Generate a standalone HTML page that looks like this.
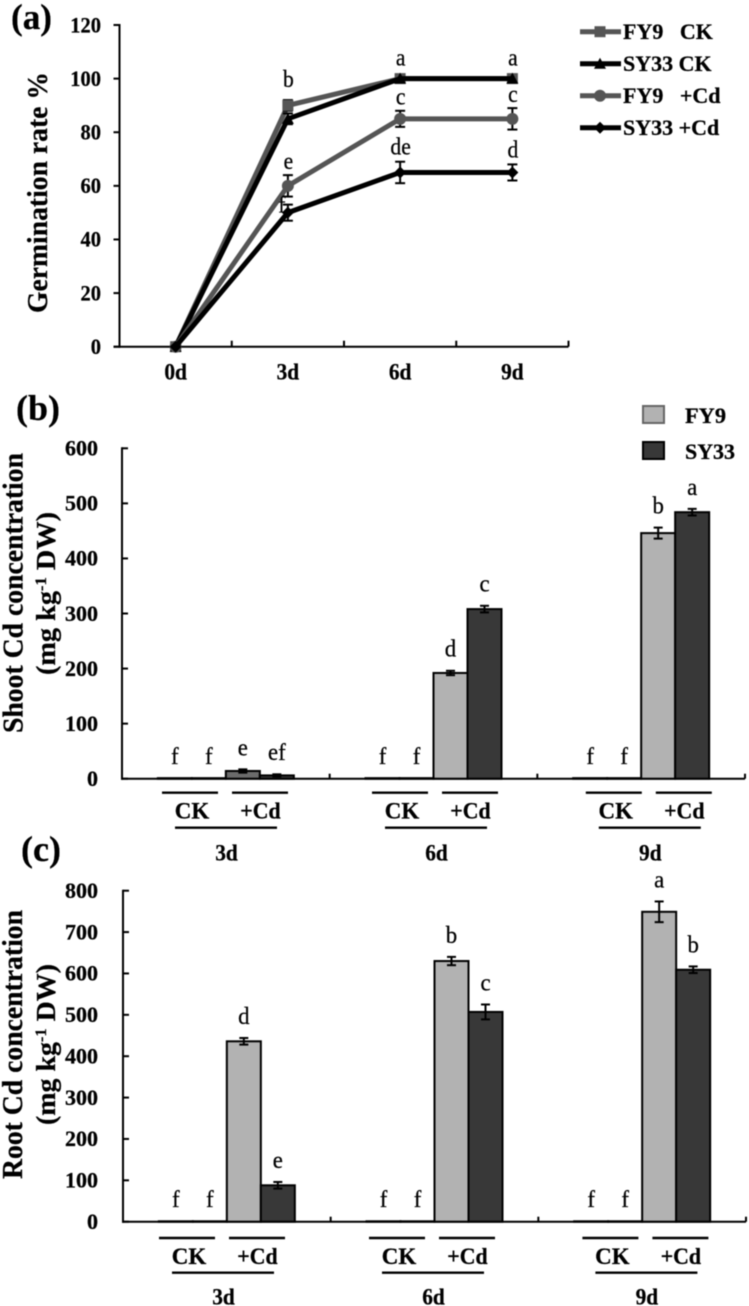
<!DOCTYPE html>
<html>
<head>
<meta charset="utf-8">
<style>
html,body{margin:0;padding:0;background:#fff;width:749px;height:1306px;overflow:hidden}
svg{display:block;filter:blur(.5px)}
text{font-family:"Liberation Serif",serif;fill:#000;stroke:#000;stroke-width:.25px}
</style>
</head>
<body>
<svg id="fig" width="749" height="1306" viewBox="0 0 749 1306" xmlns="http://www.w3.org/2000/svg">
  <g id="legendA"></g>
  <g id="panelA"></g>
  <g id="panelB"></g>
  <g id="panelC"></g>

  <text x="11" y="29" font-size="36" font-weight="bold" textLength="41" lengthAdjust="spacingAndGlyphs">(a)</text>
  <text x="16" y="420" font-size="36" font-weight="bold" textLength="44" lengthAdjust="spacingAndGlyphs">(b)</text>
  <text x="21" y="861" font-size="36" font-weight="bold" textLength="40" lengthAdjust="spacingAndGlyphs">(c)</text>

  <text transform="translate(47,313) rotate(-90)" font-size="28" font-weight="bold" textLength="241" lengthAdjust="spacingAndGlyphs">Germination rate %</text>
  <text transform="translate(22.5,733) rotate(-90)" font-size="28" font-weight="bold" textLength="280" lengthAdjust="spacingAndGlyphs">Shoot Cd concentration</text>
  <text transform="translate(55,675) rotate(-90)" font-size="27" font-weight="bold" textLength="163" lengthAdjust="spacingAndGlyphs">(mg kg<tspan dy="-9" font-size="16">-1</tspan><tspan dy="9"> DW)</tspan></text>
  <text transform="translate(22,1179) rotate(-90)" font-size="28" font-weight="bold" textLength="269" lengthAdjust="spacingAndGlyphs">Root Cd concentration</text>
  <text transform="translate(55,1125) rotate(-90)" font-size="27" font-weight="bold" textLength="161" lengthAdjust="spacingAndGlyphs">(mg kg<tspan dy="-9" font-size="16">-1</tspan><tspan dy="9"> DW)</tspan></text>

  <rect x="643" y="406" width="21" height="17" fill="#b2b2b2" stroke="#666" stroke-width="2"/>
  <rect x="643" y="442" width="21" height="17" fill="#383838" stroke="#000" stroke-width="2"/>
  <text x="685" y="423" font-size="22" font-weight="bold" textLength="41" lengthAdjust="spacingAndGlyphs">FY9</text>
  <text x="685" y="459" font-size="22" font-weight="bold" textLength="50" lengthAdjust="spacingAndGlyphs">SY33</text>
</svg>

<script>
// ---------- Panel (a) data ----------
const daysA = ['0d', '3d', '6d', '9d'];
const ticksA = [0, 20, 40, 60, 80, 100, 120];
const fy9Ck = [0, 90, 100, 100];
const sy33Ck = [0, 85, 100, 100];
const fy9Cd = [0, 60, 85, 85];
const sy33Cd = [0, 50, 65, 65];
const fy9CkErr = [0, 2, 0, 0];
const sy33CkErr = [0, 2, 0, 0];
const fy9CdErr = [0, 4, 3, 4];
const sy33CdErr = [0, 3, 4, 3];
const fy9CkLetters = ['', 'b', 'a', 'a'];
const sy33CkLetters = ['', '', '', ''];
const fy9CdLetters = ['', 'e', 'c', 'c'];
const sy33CdLetters = ['', 'f', 'de', 'd'];
const legendNames = ['FY9   CK', 'SY33 CK', 'FY9   +Cd', 'SY33 +Cd'];

// ---------- Panel (b) data ----------
const daysBar = ['3d', '6d', '9d'];
const ticksB = [0, 100, 200, 300, 400, 500, 600];
const shootFy9Ck = [1, 1, 1];
const shootSy33Ck = [1, 1, 1];
const shootFy9Cd = [14, 192, 446];
const shootSy33Cd = [6, 308, 484];
const shootFy9CdErr = [3, 4, 10];
const shootSy33CdErr = [2, 6, 6];
const shootLetters = [['f', 'f', 'e', 'ef'], ['f', 'f', 'd', 'c'], ['f', 'f', 'b', 'a']];

// ---------- Panel (c) data ----------
const ticksC = [0, 100, 200, 300, 400, 500, 600, 700, 800];
const rootFy9Ck = [1, 1, 1];
const rootSy33Ck = [1, 1, 1];
const rootFy9Cd = [436, 630, 749];
const rootSy33Cd = [88, 507, 609];
const rootFy9CdErr = [8, 10, 25];
const rootSy33CdErr = [8, 18, 8];
const rootLetters = [['f', 'f', 'd', 'e'], ['f', 'f', 'b', 'c'], ['f', 'f', 'a', 'b']];

const NS = 'http://www.w3.org/2000/svg';

function line(parent, name, x1, y1, x2, y2, color, width) {
  const el = document.createElementNS(NS, 'line');
  
  
  el.setAttribute('x1', x1);
  el.setAttribute('y1', y1);
  el.setAttribute('x2', x2);
  el.setAttribute('y2', y2);
  el.setAttribute('stroke', color);
  el.setAttribute('stroke-width', width);
  parent.appendChild(el);
  return el;
}

function label(parent, name, str, x, y, size, bold, anchor, squeeze) {
  const el = document.createElementNS(NS, 'text');
  
  
  el.setAttribute('x', x);
  el.setAttribute('y', y + size * 0.33);
  el.setAttribute('font-size', size);
  el.setAttribute('font-weight', bold ? 'bold' : 'normal');
  el.setAttribute('text-anchor', anchor);
  el.style.whiteSpace = 'pre';
  el.textContent = str;
  parent.appendChild(el);
  if (squeeze && squeeze !== 1) {
    el.setAttribute('textLength', el.getComputedTextLength() * squeeze);
    el.setAttribute('lengthAdjust', 'spacingAndGlyphs');
  }
  return el;
}

function marker(parent, name, kind, x, y, color, s) {
  let el;
  if (kind === 'circle') {
    el = document.createElementNS(NS, 'circle');
    el.setAttribute('cx', x);
    el.setAttribute('cy', y);
    el.setAttribute('r', s);
  } else {
    el = document.createElementNS(NS, 'polygon');
    let pts;
    if (kind === 'square') pts = [[x - s, y - s], [x + s, y - s], [x + s, y + s], [x - s, y + s]];
    if (kind === 'triangle') pts = [[x, y - s - 1], [x + s + 1, y + s], [x - s - 1, y + s]];
    if (kind === 'diamond') pts = [[x, y - s - 1], [x + s + 1, y], [x, y + s + 1], [x - s - 1, y]];
    el.setAttribute('points', pts.map(p => p.join(',')).join(' '));
  }
  
  
  el.setAttribute('fill', color);
  parent.appendChild(el);
  return el;
}

function errorBar(parent, name, x, yLow, yHigh, cap) {
  line(parent, name + '-stem', x, yLow, x, yHigh, '#000', 2);
  line(parent, name + '-cap-top', x - cap, yHigh, x + cap, yHigh, '#000', 2);
  line(parent, name + '-cap-bottom', x - cap, yLow, x + cap, yLow, '#000', 2);
}

// ---------- Panel (a) ----------
(function () {
  const g = document.getElementById('panelA');
  const axisX = 119.5, axisRight = 568.5, y0 = 346.7, yTop = 25, yMax = 120;
  const step = (axisRight - axisX) / daysA.length;
  const xA = i => axisX + step * (i + 0.5);
  const yA = v => y0 - (v / yMax) * (y0 - yTop);

  line(g, 'y-axis-line', axisX, yTop - 1, axisX, y0 + 1, '#000', 2);
  line(g, 'x-axis-line', axisX - 6, y0, axisRight, y0, '#000', 2);
  ticksA.forEach(t => {
    line(g, 'y-axis-tick', axisX - 6, yA(t), axisX, yA(t), '#000', 2);
    label(g, 'y-tick-label', String(t), 101, yA(t), 22, true, 'end', 0.93);
  });
  daysA.forEach((d, i) => {
    line(g, 'x-axis-tick', axisX + step * (i + 1), y0 - 6, axisX + step * (i + 1), y0, '#000', 2);
    label(g, 'x-tick-label', d, xA(i), 372, 23, true, 'middle', 0.93);
  });

  const series = [
    { name: 'fy9-ck', vals: fy9Ck, errs: fy9CkErr, letters: fy9CkLetters, color: '#555', kind: 'square', size: 5.5, lift: 21 },
    { name: 'sy33-ck', vals: sy33Ck, errs: sy33CkErr, letters: sy33CkLetters, color: '#000', kind: 'triangle', size: 5, lift: 21 },
    { name: 'fy9-cd', vals: fy9Cd, errs: fy9CdErr, letters: fy9CdLetters, color: '#555', kind: 'circle', size: 6, lift: 14 },
    { name: 'sy33-cd', vals: sy33Cd, errs: sy33CdErr, letters: sy33CdLetters, color: '#000', kind: 'diamond', size: 5, lift: 15 }
  ];
  series.forEach(s => {
    const pl = document.createElementNS(NS, 'polyline');
    
    
    pl.setAttribute('fill', 'none');
    pl.setAttribute('stroke', s.color);
    pl.setAttribute('stroke-width', 5);
    pl.setAttribute('points', s.vals.map((v, i) => xA(i) + ',' + yA(v)).join(' '));
    g.appendChild(pl);
    s.vals.forEach((v, i) => {
      if (s.errs[i] > 0) errorBar(g, 'error-' + s.name, xA(i), yA(v - s.errs[i]), yA(v + s.errs[i]), 5);
      marker(g, 'point-' + s.name, s.kind, xA(i), yA(v), s.color, s.size);
      const letter = s.letters[i];
      if (letter) {
        const special = letter === 'f';
        const ly = yA(v + s.errs[i]) - (special ? 0 : s.lift);
        label(g, 'significance-letter', letter, xA(i) + (special ? -6 : 0.5), ly, 24, false, 'middle', 0.9);
      }
    });
  });

  // legend
  const lg = document.getElementById('legendA');
  const legendY = i => 31.7 + i * 32;
  series.forEach((s, i) => {
    line(lg, 'legend-line-' + s.name, 580, legendY(i), 621, legendY(i), s.color, 5);
    marker(lg, 'legend-marker-' + s.name, s.kind, 600, legendY(i), s.color, s.size);
    label(lg, 'legend-label-' + s.name, legendNames[i], 623, legendY(i), 22, true, 'start', 1);
  });
})();

// ---------- Bar panels ----------
function barPanel(cfg) {
  const g = cfg.g;
  const x0 = cfg.axisX, xR = cfg.axisRight;
  const step = (xR - x0) / daysBar.length;
  const y = v => cfg.y0 - (v / cfg.yMax) * (cfg.y0 - cfg.yTop);
  const barW = 34;

  line(g, 'y-axis-line', x0, cfg.yTop - 1, x0, cfg.y0 + 1, '#000', 2);
  line(g, 'x-axis-line', x0 - 1, cfg.y0, xR, cfg.y0, '#000', 2);
  cfg.ticks.forEach(t => {
    line(g, 'y-axis-tick', x0, y(t), x0 + 6, y(t), '#000', 2);
    label(g, 'y-tick-label', String(t), 98, y(t), 22, true, 'end', 1);
  });
  daysBar.forEach((d, i) => {
    const tx = x0 + step * (i + 1);
    line(g, 'x-axis-tick', tx, cfg.y0 - 5, tx, cfg.y0, '#000', 2);
    const center = x0 + step * (i + 0.5);
    const vals = [cfg.fy9Ck[i], cfg.sy33Ck[i], cfg.fy9Cd[i], cfg.sy33Cd[i]];
    const errs = [0, 0, cfg.fy9Err[i], cfg.sy33Err[i]];
    const fills = ['#b2b2b2', '#383838', cfg.fill(vals[2]), '#383838'];
    vals.forEach((v, j) => {
      const bx = center + (j - 2) * barW;
      const r = document.createElementNS(NS, 'rect');
      
      
      r.setAttribute('x', bx);
      r.setAttribute('y', y(v));
      r.setAttribute('width', barW);
      r.setAttribute('height', cfg.y0 - y(v));
      r.setAttribute('fill', fills[j]);
      r.setAttribute('stroke', '#000');
      r.setAttribute('stroke-width', 2);
      g.appendChild(r);
      if (errs[j] > 0) errorBar(g, 'error-bar', bx + barW / 2, y(v - errs[j]), y(v + errs[j]), 4.5);
      label(g, 'significance-letter', cfg.letters[i][j], bx + barW / 2, y(v + errs[j]) - cfg.lift, 24, false, 'middle', 0.95);
    });

    // treatment annotation
    const L = cfg.bracketLeft[i];
    line(g, 'ck-underline', L, cfg.upperY, L + 56, cfg.upperY, '#000', 2.4);
    line(g, 'cd-underline', L + 70, cfg.upperY, L + 126, cfg.upperY, '#000', 2.4);
    line(g, 'day-underline', L + 13, cfg.lowerY, L + 115, cfg.lowerY, '#000', 2.4);
    label(g, 'ck-label', 'CK', L + 30, cfg.treatY, 23, true, 'middle', 1);
    label(g, 'cd-label', '+Cd', L + 98.5, cfg.treatY, 23, true, 'middle', 0.95);
    label(g, 'day-label', d, L + 64.5, cfg.dayY, 23, true, 'middle', 0.93);
  });
}

barPanel({
  g: document.getElementById('panelB'),
  axisX: 122, axisRight: 745, y0: 778.7, yTop: 448.3, yMax: 600,
  ticks: ticksB, fy9Ck: shootFy9Ck, sy33Ck: shootSy33Ck, fy9Cd: shootFy9Cd, sy33Cd: shootSy33Cd,
  fy9Err: shootFy9CdErr, sy33Err: shootSy33CdErr, letters: shootLetters, lift: 22,
  fill: v => (v < 20 ? '#6b6b6b' : '#b2b2b2'),
  bracketLeft: [162, 372, 585.8], upperY: 792.7, lowerY: 827.7, treatY: 811, dayY: 852.7
});

barPanel({
  g: document.getElementById('panelC'),
  axisX: 123, axisRight: 746, y0: 1221.7, yTop: 890.7, yMax: 800,
  ticks: ticksC, fy9Ck: rootFy9Ck, sy33Ck: rootSy33Ck, fy9Cd: rootFy9Cd, sy33Cd: rootSy33Cd,
  fy9Err: rootFy9CdErr, sy33Err: rootSy33CdErr, letters: rootLetters, lift: 22,
  fill: v => '#b2b2b2',
  bracketLeft: [159, 369, 582.4], upperY: 1238, lowerY: 1272.7, treatY: 1256.5, dayY: 1296.7
});
</script>
</body>
</html>
